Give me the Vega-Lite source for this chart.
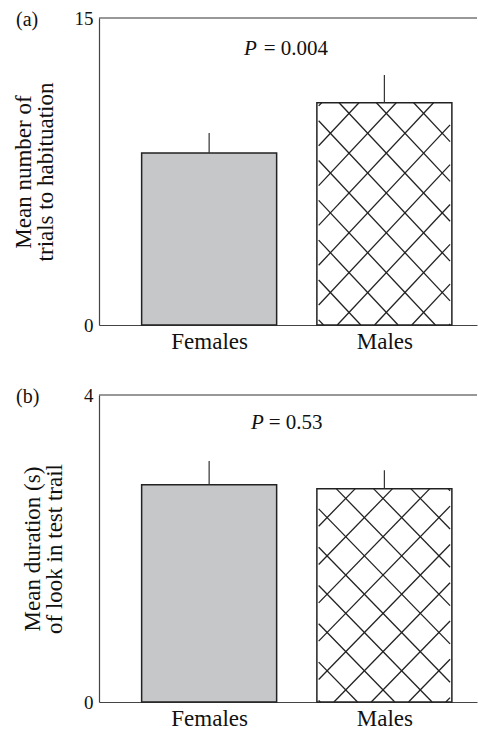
{
  "$schema": "https://vega.github.io/schema/vega-lite/v6.json",
  "background": "white",
  "padding": {"left": 12, "top": 9, "right": 0, "bottom": 0},
  "spacing": 33,
  "config": {
    "view": {"stroke": null},
    "font": "Liberation Serif",
    "axis": {"grid": false, "domainColor": "#444", "domainWidth": 1.2, "tickSize": 0, "labelColor": "#111", "titleColor": "#111", "titleFontWeight": "normal"}
  },
  "datasets": {
    "bars_a": [
      {"sex": "Females", "pos": 1, "mean": 8.4, "upper": 9.38},
      {"sex": "Males", "pos": 2, "mean": 10.86, "upper": 12.21}
    ],
    "bars_b": [
      {"sex": "Females", "pos": 1, "mean": 2.83, "upper": 3.14},
      {"sex": "Males", "pos": 2, "mean": 2.78, "upper": 3.02}
    ],
    "hatch_a": [
      {"x": 2.1672, "y": 10.86, "x2": 2.375, "y2": 8.961},
      {"x": 1.9544, "y": 10.86, "x2": 2.375, "y2": 7.016},
      {"x": 1.7417, "y": 10.86, "x2": 2.375, "y2": 5.069},
      {"x": 1.625, "y": 9.983, "x2": 2.375, "y2": 3.123},
      {"x": 1.625, "y": 8.037, "x2": 2.375, "y2": 1.177},
      {"x": 1.625, "y": 6.091, "x2": 2.2911, "y2": 0},
      {"x": 1.625, "y": 4.145, "x2": 2.0783, "y2": 0},
      {"x": 1.625, "y": 2.199, "x2": 1.8656, "y2": 0},
      {"x": 1.625, "y": 0.253, "x2": 1.6528, "y2": 0},
      {"x": 1.625, "y": 10.704, "x2": 1.6422, "y2": 10.86},
      {"x": 1.625, "y": 8.758, "x2": 1.855, "y2": 10.86},
      {"x": 1.625, "y": 6.812, "x2": 2.0678, "y2": 10.86},
      {"x": 1.625, "y": 4.866, "x2": 2.2806, "y2": 10.86},
      {"x": 1.625, "y": 2.92, "x2": 2.375, "y2": 9.78},
      {"x": 1.625, "y": 0.974, "x2": 2.375, "y2": 7.834},
      {"x": 1.7311, "y": 0, "x2": 2.375, "y2": 5.888},
      {"x": 1.9439, "y": 0, "x2": 2.375, "y2": 3.942},
      {"x": 2.1567, "y": 0, "x2": 2.375, "y2": 1.995},
      {"x": 2.3694, "y": 0, "x2": 2.375, "y2": 0.049}
    ],
    "hatch_b": [
      {"x": 2.3633, "y": 2.78, "x2": 2.375, "y2": 2.753},
      {"x": 2.1506, "y": 2.78, "x2": 2.375, "y2": 2.254},
      {"x": 1.9378, "y": 2.78, "x2": 2.375, "y2": 1.755},
      {"x": 1.725, "y": 2.78, "x2": 2.375, "y2": 1.256},
      {"x": 1.625, "y": 2.516, "x2": 2.375, "y2": 0.757},
      {"x": 1.625, "y": 2.017, "x2": 2.375, "y2": 0.258},
      {"x": 1.625, "y": 1.518, "x2": 2.2722, "y2": 0},
      {"x": 1.625, "y": 1.019, "x2": 2.0594, "y2": 0},
      {"x": 1.625, "y": 0.52, "x2": 1.8467, "y2": 0},
      {"x": 1.625, "y": 0.021, "x2": 1.6339, "y2": 0},
      {"x": 1.625, "y": 2.29, "x2": 1.8339, "y2": 2.78},
      {"x": 1.625, "y": 1.792, "x2": 2.0467, "y2": 2.78},
      {"x": 1.625, "y": 1.292, "x2": 2.2594, "y2": 2.78},
      {"x": 1.625, "y": 0.793, "x2": 2.375, "y2": 2.552},
      {"x": 1.625, "y": 0.294, "x2": 2.375, "y2": 2.053},
      {"x": 1.7122, "y": 0, "x2": 2.375, "y2": 1.554},
      {"x": 1.925, "y": 0, "x2": 2.375, "y2": 1.055},
      {"x": 2.1378, "y": 0, "x2": 2.375, "y2": 0.556},
      {"x": 2.3506, "y": 0, "x2": 2.375, "y2": 0.057}
    ]
  },
  "vconcat": [
    {
      "width": 378,
      "height": 307,
      "layer": [
        {
          "data": {"name": "bars_a"},
          "mark": {"type": "bar", "width": 135, "stroke": "#222", "strokeWidth": 1.5},
          "encoding": {
            "x": {"field": "pos", "type": "quantitative", "scale": {"domain": [0.4, 2.5], "nice": false, "zero": false},
                  "axis": {"values": [1, 2], "labelExpr": "datum.value == 1 ? 'Females' : 'Males'", "title": null, "labelFontSize": 23, "labelPadding": 5}},
            "y": {"field": "mean", "type": "quantitative", "scale": {"domain": [0, 15], "nice": false},
                  "axis": {"values": [0, 15], "format": "d", "labelFontSize": 19, "labelPadding": 6, "title": ["Mean number of", "trials to habituation"], "titleFontSize": 23, "titleLineHeight": 22, "titlePadding": 17}},
            "fill": {"field": "sex", "type": "nominal", "scale": {"domain": ["Females", "Males"], "range": ["#c6c7c9", "#ffffff"]}, "legend": null}
          }
        },
        {
          "data": {"values": [{}]},
          "mark": {"type": "rule", "color": "#333", "strokeWidth": 1.2},
          "encoding": {"y": {"datum": 15, "type": "quantitative"}}
        },
        {
          "data": {"name": "hatch_a"},
          "mark": {"type": "rule", "color": "#222", "strokeWidth": 1.3},
          "encoding": {
            "x": {"field": "x", "type": "quantitative"},
            "x2": {"field": "x2"},
            "y": {"field": "y", "type": "quantitative"},
            "y2": {"field": "y2"}
          }
        },
        {
          "data": {"name": "bars_a"},
          "mark": {"type": "rule", "color": "#333", "strokeWidth": 1.2},
          "encoding": {
            "x": {"field": "pos", "type": "quantitative"},
            "y": {"field": "mean", "type": "quantitative"},
            "y2": {"field": "upper"}
          }
        },
        {
          "data": {"values": [{}]},
          "mark": {"type": "text", "text": "(a)", "fontSize": 20, "align": "left", "baseline": "middle", "dx": -88, "dy": 2, "color": "#111"},
          "encoding": {"x": {"datum": 0.4, "type": "quantitative"}, "y": {"datum": 15, "type": "quantitative"}}
        },
        {
          "data": {"values": [{}]},
          "mark": {"type": "text", "text": "P", "fontStyle": "italic", "fontSize": 21, "align": "right", "baseline": "middle", "dx": -40, "color": "#111"},
          "encoding": {"x": {"datum": 1.5, "type": "quantitative"}, "y": {"datum": 13.5, "type": "quantitative"}}
        },
        {
          "data": {"values": [{}]},
          "mark": {"type": "text", "text": "= 0.004", "fontSize": 21, "align": "left", "baseline": "middle", "dx": -33, "color": "#111"},
          "encoding": {"x": {"datum": 1.5, "type": "quantitative"}, "y": {"datum": 13.5, "type": "quantitative"}}
        }
      ]
    },
    {
      "width": 378,
      "height": 307,
      "layer": [
        {
          "data": {"name": "bars_b"},
          "mark": {"type": "bar", "width": 135, "stroke": "#222", "strokeWidth": 1.5},
          "encoding": {
            "x": {"field": "pos", "type": "quantitative", "scale": {"domain": [0.4, 2.5], "nice": false, "zero": false},
                  "axis": {"values": [1, 2], "labelExpr": "datum.value == 1 ? 'Females' : 'Males'", "title": null, "labelFontSize": 23, "labelPadding": 5}},
            "y": {"field": "mean", "type": "quantitative", "scale": {"domain": [0, 4], "nice": false},
                  "axis": {"values": [0, 4], "format": "d", "labelFontSize": 19, "labelPadding": 6, "title": ["Mean duration (s)", "of look in test trail"], "titleFontSize": 23, "titleLineHeight": 22, "titlePadding": 17}},
            "fill": {"field": "sex", "type": "nominal", "scale": {"domain": ["Females", "Males"], "range": ["#c6c7c9", "#ffffff"]}, "legend": null}
          }
        },
        {
          "data": {"values": [{}]},
          "mark": {"type": "rule", "color": "#333", "strokeWidth": 1.2},
          "encoding": {"y": {"datum": 4, "type": "quantitative"}}
        },
        {
          "data": {"name": "hatch_b"},
          "mark": {"type": "rule", "color": "#222", "strokeWidth": 1.3},
          "encoding": {
            "x": {"field": "x", "type": "quantitative"},
            "x2": {"field": "x2"},
            "y": {"field": "y", "type": "quantitative"},
            "y2": {"field": "y2"}
          }
        },
        {
          "data": {"name": "bars_b"},
          "mark": {"type": "rule", "color": "#333", "strokeWidth": 1.2},
          "encoding": {
            "x": {"field": "pos", "type": "quantitative"},
            "y": {"field": "mean", "type": "quantitative"},
            "y2": {"field": "upper"}
          }
        },
        {
          "data": {"values": [{}]},
          "mark": {"type": "text", "text": "(b)", "fontSize": 20, "align": "left", "baseline": "middle", "dx": -88, "dy": 2, "color": "#111"},
          "encoding": {"x": {"datum": 0.4, "type": "quantitative"}, "y": {"datum": 4, "type": "quantitative"}}
        },
        {
          "data": {"values": [{}]},
          "mark": {"type": "text", "text": "P", "fontStyle": "italic", "fontSize": 21, "align": "right", "baseline": "middle", "dx": -33, "color": "#111"},
          "encoding": {"x": {"datum": 1.5, "type": "quantitative"}, "y": {"datum": 3.63, "type": "quantitative"}}
        },
        {
          "data": {"values": [{}]},
          "mark": {"type": "text", "text": "= 0.53", "fontSize": 21, "align": "left", "baseline": "middle", "dx": -28, "color": "#111"},
          "encoding": {"x": {"datum": 1.5, "type": "quantitative"}, "y": {"datum": 3.63, "type": "quantitative"}}
        }
      ]
    }
  ]
}
